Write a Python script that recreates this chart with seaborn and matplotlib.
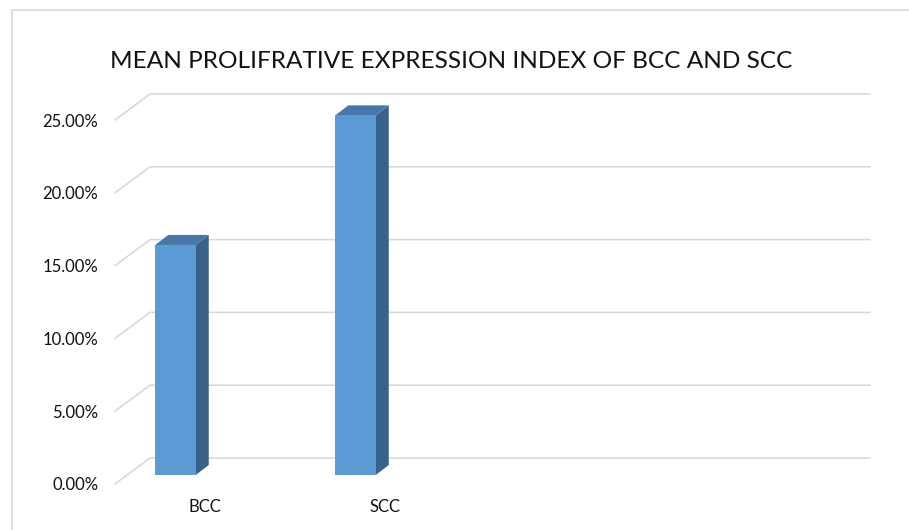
import matplotlib
matplotlib.use("Agg")
import matplotlib.pyplot as plt
import seaborn as sns
import pandas as pd
from matplotlib.patches import Polygon
from matplotlib.lines import Line2D
from matplotlib.transforms import ScaledTranslation, IdentityTransform

# ---- data ----
categories = ["BCC", "SCC"]
values = [15.8, 24.7]          # percent
yticks = [0, 5, 10, 15, 20, 25]
ytick_labels = [f"{v:.2f}%" for v in yticks]
title = "MEAN PROLIFRATIVE EXPRESSION INDEX OF BCC AND SCC"

sns.set_theme(style="white")
plt.rcParams["font.family"] = ["Lato", "DejaVu Sans"]

W, H = 909, 530
DPI = 100
fig = plt.figure(figsize=(W / DPI, H / DPI), dpi=DPI)
fig.patch.set_facecolor("white")

# layout (pixels)
px_per_unit = 14.56
x_left, x_right = 115, 835
y_zero = 484
ymax = 27
ax = fig.add_axes([x_left / W, (H - y_zero) / H, (x_right - x_left) / W,
                   ymax * px_per_unit / H])
ax.set_facecolor("none")

df = pd.DataFrame({"cat": categories, "val": values})
sns.barplot(data=df, x="cat", y="val", color="#5B9BD5", width=0.225,
            saturation=1, ax=ax, zorder=3, linewidth=0)
ax.set_xlim(-0.5, 3.5)
ax.set_ylim(0, ymax)
ax.set_xlabel("")
ax.set_ylabel("")
ax.grid(False)
for s in ax.spines.values():
    s.set_visible(False)
ax.set_yticks(yticks, ytick_labels)
ax.tick_params(axis="y", length=0, pad=12, labelsize=12, labelcolor="#111111")
ax.tick_params(axis="x", length=0, pad=11, labelsize=12, labelcolor="#111111")

grid_col = "#D9D9D9"
# perspective offsets (pixels)
wall_dx, wall_dy = 35, 26
for v in yticks:
    fx, fy = ax.transData.transform((-0.5, v))
    rx, _ = ax.transData.transform((3.5, v))
    ln = Line2D([fx, fx + wall_dx, rx + wall_dx], [fy, fy + wall_dy, fy + wall_dy],
                transform=IdentityTransform(), color=grid_col, lw=1.2, zorder=1)
    ln.set_clip_on(False)
    ax.add_artist(ln)

# shift bars and add 3D faces
bar_dx, bar_dy = -29.5, 9
depth_dx, depth_dy = 13, 10
top_col = "#4677A8"
side_col = "#37628A"
shift = ScaledTranslation(bar_dx / DPI, bar_dy / DPI, fig.dpi_scale_trans)
for p in list(ax.patches):
    p.set_transform(ax.transData + shift)
    x0, y0 = p.get_x(), p.get_y()
    x1, y1 = x0 + p.get_width(), y0 + p.get_height()
    (X0, Y0), (X1, Y1) = (ax.transData + shift).transform([(x0, y0), (x1, y1)])
    side = Polygon([(X1, Y0), (X1, Y1), (X1 + depth_dx, Y1 + depth_dy),
                    (X1 + depth_dx, Y0 + depth_dy)], closed=True,
                   transform=IdentityTransform(), facecolor=side_col,
                   edgecolor="none", zorder=2.5, clip_on=False)
    top = Polygon([(X0, Y1), (X1, Y1), (X1 + depth_dx, Y1 + depth_dy),
                   (X0 + depth_dx, Y1 + depth_dy)], closed=True,
                  transform=IdentityTransform(), facecolor=top_col,
                  edgecolor="none", zorder=2.5, clip_on=False)
    ax.add_artist(side)
    ax.add_artist(top)

# chart border
for xs, ys in [([12, 12], [0, H - 10]), ([12, W], [H - 10, H - 10])]:
    fig.add_artist(Line2D(xs, ys, transform=IdentityTransform(), color=grid_col, lw=1.2))

fig.text(451 / W, 1 - 61 / H, title, ha="center", va="center", fontsize=17.6,
         color="#111111")

fig.savefig("out.png", dpi=DPI, facecolor="white")
